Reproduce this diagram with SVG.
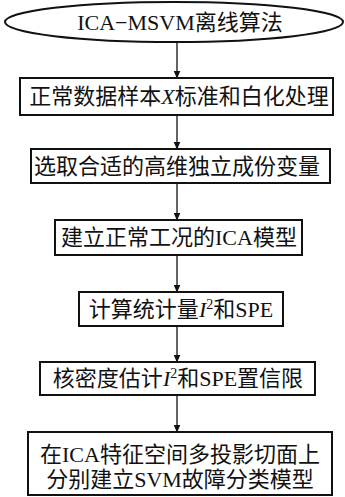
<svg xmlns="http://www.w3.org/2000/svg" width="345" height="497" viewBox="0 0 345 497">
<style>
.box{fill:#fff;stroke:#111;stroke-width:2}
.t{font-family:"Liberation Serif","Noto Sans CJK SC",serif;font-size:22px;fill:#111;text-anchor:middle}
.i{font-style:italic}
.sup{font-size:14px}
.conn line{stroke:#111;stroke-width:1.3}
</style>
<defs>
<marker id="ah" markerWidth="8" markerHeight="12" refX="7.5" refY="6" orient="auto" markerUnits="userSpaceOnUse">
<path d="M0,2.5 L8,6 L0,9.5 Z" fill="#111"/>
</marker>
</defs>
<rect width="345" height="497" fill="#fff"/>
<g class="conn">
<line x1="177" y1="42" x2="177" y2="78" marker-end="url(#ah)"/>
<line x1="177" y1="115" x2="177" y2="149" marker-end="url(#ah)"/>
<line x1="177" y1="183" x2="177" y2="220" marker-end="url(#ah)"/>
<line x1="177" y1="255" x2="177" y2="292" marker-end="url(#ah)"/>
<line x1="177" y1="326" x2="177" y2="362" marker-end="url(#ah)"/>
<line x1="177" y1="395" x2="177" y2="432" marker-end="url(#ah)"/>
</g>
<g id="n1">
<ellipse class="box" cx="174" cy="22" rx="169" ry="20"/>
<text class="t" x="180" y="30">ICA−MSVM离线算法</text>
</g>
<g id="n2">
<rect class="box" x="20" y="78" width="313" height="37"/>
<text class="t" x="179" y="104">正常数据样本<tspan class="i">X</tspan>标准和白化处理</text>
</g>
<g id="n3">
<rect class="box" x="31" y="149" width="299" height="34"/>
<text class="t" x="177" y="174">选取合适的高维独立成份变量</text>
</g>
<g id="n4">
<rect class="box" x="55" y="220" width="247" height="35"/>
<text class="t" x="179" y="245">建立正常工况的ICA模型</text>
</g>
<g id="n5">
<rect class="box" x="79" y="292" width="204" height="34"/>
<text class="t" x="181" y="317">计算统计量<tspan class="i">I</tspan><tspan class="sup" dy="-8">2</tspan><tspan dy="8">和SPE</tspan></text>
</g>
<g id="n6">
<rect class="box" x="40" y="362" width="275" height="33"/>
<text class="t" x="178" y="386">核密度估计<tspan class="i">I</tspan><tspan class="sup" dy="-8">2</tspan><tspan dy="8">和SPE置信限</tspan></text>
</g>
<g id="n7">
<rect class="box" x="28" y="432" width="304" height="63"/>
<text class="t" x="180" y="462">在ICA特征空间多投影切面上</text>
<text class="t" x="180" y="487">分别建立SVM故障分类模型</text>
</g>
</svg>
